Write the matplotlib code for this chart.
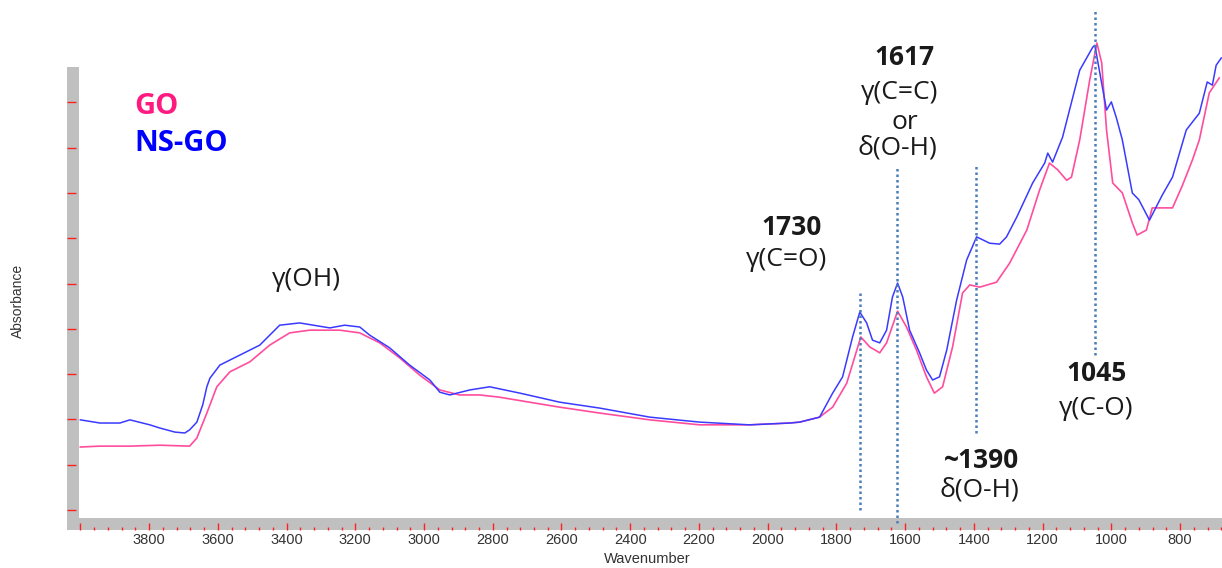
import numpy as np
import matplotlib
matplotlib.use("Agg")
import matplotlib.pyplot as plt
from matplotlib.patches import Rectangle
from matplotlib.ticker import FixedLocator, FixedFormatter, MultipleLocator

# FTIR spectra (wavenumber in cm-1, absorbance in arbitrary units)
nsgo_wn = [4000, 3943, 3885, 3856, 3798, 3769, 3725, 3696, 3682, 3661, 3644, 3632,
           3623, 3594, 3536, 3478, 3449, 3420, 3362, 3274, 3231, 3187, 3158, 3100,
           3042, 2983, 2954, 2925, 2867, 2809, 2721, 2605, 2489, 2343, 2198, 2053,
           1936, 1907, 1849, 1811, 1782, 1753, 1732, 1712, 1695, 1674, 1654, 1637,
           1622, 1607, 1587, 1558, 1538, 1520, 1500, 1479, 1450, 1421, 1392, 1354,
           1325, 1305, 1275, 1229, 1194, 1185, 1171, 1142, 1092, 1054, 1048, 1030,
           1014, 1000, 985, 968, 939, 920, 889, 852, 822, 782, 744, 721, 706, 695, 680]
nsgo_abs = [0.199, 0.192, 0.192, 0.199, 0.188, 0.181, 0.172, 0.170, 0.177, 0.194, 0.232, 0.272,
            0.291, 0.320, 0.342, 0.364, 0.386, 0.408, 0.413, 0.402, 0.408, 0.404, 0.386, 0.358,
            0.320, 0.287, 0.260, 0.254, 0.265, 0.272, 0.258, 0.238, 0.225, 0.205, 0.194, 0.188,
            0.192, 0.194, 0.205, 0.258, 0.294, 0.382, 0.437, 0.413, 0.375, 0.369, 0.397, 0.470,
            0.501, 0.470, 0.397, 0.347, 0.309, 0.287, 0.294, 0.353, 0.464, 0.552, 0.603, 0.589,
            0.587, 0.603, 0.647, 0.722, 0.766, 0.788, 0.768, 0.823, 0.971, 1.022, 1.026, 0.950,
            0.883, 0.901, 0.865, 0.817, 0.700, 0.685, 0.640, 0.695, 0.735, 0.839, 0.876, 0.945,
            0.938, 0.982, 0.998]

go_wn = [4000, 3943, 3856, 3769, 3682, 3661, 3632, 3603, 3565, 3507, 3449, 3391,
         3333, 3245, 3187, 3129, 3071, 3013, 2954, 2897, 2838, 2780, 2693, 2605,
         2489, 2343, 2198, 2053, 1936, 1907, 1849, 1811, 1770, 1729, 1703, 1674,
         1654, 1622, 1596, 1567, 1538, 1515, 1491, 1462, 1433, 1412, 1383, 1334,
         1296, 1246, 1209, 1180, 1156, 1130, 1116, 1092, 1063, 1042, 1028, 1014,
         996, 968, 939, 925, 898, 881, 822, 793, 764, 744, 715, 686]
go_abs = [0.139, 0.141, 0.141, 0.143, 0.141, 0.159, 0.214, 0.272, 0.305, 0.327, 0.364, 0.391,
          0.397, 0.397, 0.391, 0.369, 0.336, 0.298, 0.265, 0.254, 0.254, 0.249, 0.238, 0.227,
          0.214, 0.199, 0.188, 0.188, 0.192, 0.194, 0.205, 0.227, 0.280, 0.382, 0.360, 0.347,
          0.369, 0.439, 0.404, 0.353, 0.294, 0.258, 0.272, 0.360, 0.479, 0.497, 0.492, 0.503,
          0.545, 0.618, 0.706, 0.766, 0.751, 0.728, 0.735, 0.817, 0.949, 1.031, 0.987, 0.839,
          0.722, 0.700, 0.634, 0.607, 0.618, 0.667, 0.667, 0.717, 0.773, 0.817, 0.921, 0.954]

# marked bands: position, top and bottom of the dotted guide
band_wn = [1730, 1623, 1394, 1047]
band_top = [0.486, 0.755, 0.759, 1.104]
band_bottom = [0.0, -0.029, 0.170, 0.342]

x_major = list(range(4000, 799, -200))
x_labels = [''] + [str(v) for v in x_major[1:]]
y_ticks = [i / 10 for i in range(10)]

pink = '#ff4d9e'
blue = '#3a3aff'
font = ['Open Sans', 'DejaVu Sans']

fig = plt.figure(figsize=(12.22, 5.68), dpi=100)
ax = fig.add_axes([79 / 1222, 50 / 568, 1143 / 1222, 518 / 568])

ax.plot(go_wn, go_abs, color=pink, lw=1.2)
ax.plot(nsgo_wn, nsgo_abs, color=blue, lw=1.1)

for wn, top, bot in zip(band_wn, band_top, band_bottom):
    ax.plot([wn, wn], [bot, top], color='#4a7ebb', ls=(0, (1, 1.2)), lw=1.8,
            clip_on=False, zorder=3)

ax.set_xlim(4004, 678)
ax.set_ylim(-0.0177, 1.126)

# grey frame bands
for rect in [(67 / 1222, 38 / 568, 1155 / 1222, 12 / 568),
             (67 / 1222, 38 / 568, 12 / 1222, 463 / 568)]:
    ax.add_patch(Rectangle(rect[:2], rect[2], rect[3], transform=fig.transFigure,
                           facecolor='#c0c0c0', edgecolor='none', clip_on=False, zorder=1))

for s in ax.spines.values():
    s.set_visible(False)
ax.spines['bottom'].set_position(('outward', 8.64))
ax.spines['left'].set_position(('outward', 8.64))

ax.xaxis.set_major_locator(FixedLocator(x_major))
ax.xaxis.set_major_formatter(FixedFormatter(x_labels))
ax.xaxis.set_minor_locator(MultipleLocator(40))
ax.yaxis.set_major_locator(FixedLocator(y_ticks))
ax.yaxis.set_ticklabels([])
ax.tick_params(axis='x', which='major', direction='in', length=5, width=1,
               color='#ff2020', labelsize=10.5, labelcolor='#333333', pad=2)
ax.tick_params(axis='x', which='minor', direction='in', length=2.5, width=1,
               color='#ff2020')
ax.tick_params(axis='y', which='major', direction='in', length=6.5, width=1,
               color='#ff2020')
for lab in ax.get_xticklabels():
    lab.set_fontfamily(['Liberation Sans', 'DejaVu Sans'])

ax.set_xlabel('Wavenumber', fontsize=10.5, color='#333333', family=['Liberation Sans'])
ax.set_ylabel('Absorbance', fontsize=10, color='#333333', family=['Liberation Sans'])
ax.xaxis.set_label_coords(0.497, -0.066)
ax.yaxis.set_label_coords(-0.047, 0.419)

# legend text
ax.text(3842, 0.890, 'GO', color='#ff1a80', fontsize=21, fontweight='bold',
        family=font, ha='left', va='center')
ax.text(3842, 0.810, 'NS-GO', color='#0000ff', fontsize=21, fontweight='bold',
        family=font, ha='left', va='center')

# band annotations
notes = [
    (3342, 0.508, 'γ(OH)', 'normal'),
    (1930, 0.623, '1730', 'bold'),
    (1945, 0.552, 'γ(C=O)', 'normal'),
    (1601, 0.998, '1617', 'bold'),
    (1616, 0.921, 'γ(C=C)', 'normal'),
    (1601, 0.855, 'or', 'normal'),
    (1622, 0.799, 'δ(O-H)', 'normal'),
    (1043, 0.302, '1045', 'bold'),
    (1043, 0.225, 'γ(C-O)', 'normal'),
    (1378, 0.110, '~1390', 'bold'),
    (1384, 0.044, 'δ(O-H)', 'normal'),
]
for x, y, s, w in notes:
    ax.text(x, y, s, fontsize=19, fontweight=w, family=font, color='#1a1a1a',
            ha='center', va='center')

fig.savefig('out.png', dpi=100)
